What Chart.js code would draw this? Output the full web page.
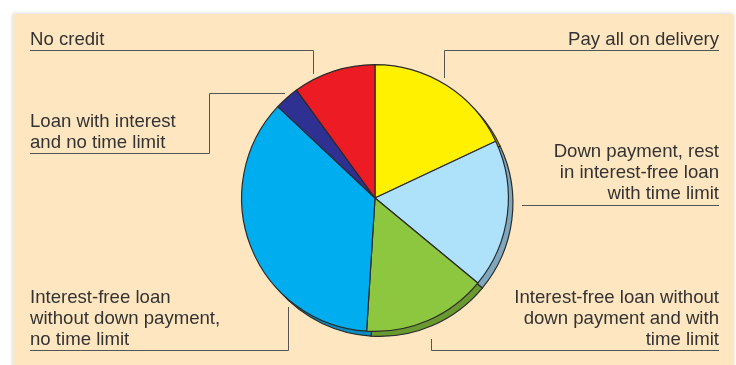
<!DOCTYPE html>
<html>
<head>
<meta charset="utf-8">
<script src="https://cdn.jsdelivr.net/npm/chart.js@4.4.1/dist/chart.umd.min.js"></script>
<style>
  html, body { margin: 0; padding: 0; background: #ffffff; }
  #wrap { position: relative; width: 736px; height: 365px; overflow: hidden; }
  #panel { position: absolute; left: 13px; top: 14px; width: 720px; height: 360px;
           background: #fee6c0; box-shadow: 0 0 4px rgba(0,0,0,0.22); }
  #c { position: absolute; left: 0; top: 0; }
</style>
</head>
<body>
<div id="wrap">
  <div id="panel"></div>
  <canvas id="c" width="736" height="365"></canvas>
</div>
<script>
// ---- Data ----
const categories = [
  "Pay all on delivery",
  "Down payment, rest in interest-free loan with time limit",
  "Interest-free loan without down payment and with time limit",
  "Interest-free loan without down payment, no time limit",
  "Loan with interest and no time limit",
  "No credit"
];
const shares = [18, 18, 15, 36, 3, 10];
const sliceColors = ["#fff100", "#aee1fa", "#8dc63f", "#00aeef", "#2e3192", "#ed1c24"];
const rimColors   = ["#bfae00", "#7fa8be", "#6a9a2f", "#0b8cc2", "#1e2070", "#a81218"];

// label text lines (layout below)
const labelLines = [
  ["Pay all on delivery"],
  ["Down payment, rest", "in interest-free loan", "with time limit"],
  ["Interest-free loan without", "down payment and with", "time limit"],
  ["Interest-free loan", "without down payment,", "no time limit"],
  ["Loan with interest", "and no time limit"],
  ["No credit"]
];

// label layout: anchor x, first baseline y, alignment, leader polyline
const labelLayout = [
  { x: 719, y: 45,  align: "right", line: [[719,50.5],[444.5,50.5],[444.5,78]] },
  { x: 719, y: 157, align: "right", line: [[719,205.5],[522,205.5]] },
  { x: 719, y: 303, align: "right", line: [[719,350.5],[431.5,350.5],[431.5,339]] },
  { x: 30,  y: 303, align: "left",  line: [[30,350.5],[288.5,350.5],[288.5,307]] },
  { x: 30,  y: 127, align: "left",  line: [[30,153.5],[209.5,153.5],[209.5,93.5],[285,93.5]] },
  { x: 30,  y: 45,  align: "left",  line: [[30,50.5],[313.5,50.5],[313.5,74]] }
];

const rimOffset = { dx: 4.5, dy: 5 };

const rimPlugin = {
  id: "rim",
  beforeDatasetsDraw(chart) {
    const ctx = chart.ctx;
    const meta = chart.getDatasetMeta(0);
    ctx.save();
    meta.data.forEach((arc, i) => {
      const p = arc.getProps(["x","y","startAngle","endAngle","outerRadius"], true);
      const cx = p.x + rimOffset.dx, cy = p.y + rimOffset.dy;
      ctx.beginPath();
      ctx.moveTo(cx, cy);
      ctx.arc(cx, cy, p.outerRadius, p.startAngle, p.endAngle);
      ctx.closePath();
      ctx.fillStyle = rimColors[i];
      ctx.fill();
      ctx.lineWidth = 1.2;
      ctx.strokeStyle = "#2a2a2a";
      ctx.stroke();
    });
    ctx.restore();
  }
};

const labelPlugin = {
  id: "labels",
  afterDraw(chart) {
    const ctx = chart.ctx;
    ctx.save();
    ctx.font = "18.6px 'Liberation Sans', Arial, sans-serif";
    ctx.fillStyle = "#333333";
    ctx.textBaseline = "alphabetic";
    labelLayout.forEach((L, i) => {
      ctx.textAlign = L.align;
      labelLines[i].forEach((t, k) => ctx.fillText(t, L.x, L.y + k * 21));
      ctx.beginPath();
      L.line.forEach((pt, k) => k ? ctx.lineTo(pt[0], pt[1]) : ctx.moveTo(pt[0], pt[1]));
      ctx.lineWidth = 1;
      ctx.strokeStyle = "#555555";
      ctx.stroke();
    });
    ctx.restore();
  }
};

new Chart(document.getElementById("c"), {
  type: "pie",
  data: {
    labels: categories,
    datasets: [{
      data: shares,
      backgroundColor: sliceColors,
      borderColor: "#2a2a2a",
      borderWidth: 1.2,
      borderAlign: "center"
    }]
  },
  options: {
    responsive: false,
    animation: false,
    events: [],
    layout: { padding: { left: 241, right: 227, top: 64, bottom: 33 } },
    plugins: { legend: { display: false }, tooltip: { enabled: false } }
  },
  plugins: [rimPlugin, labelPlugin]
});
</script>
</body>
</html>
